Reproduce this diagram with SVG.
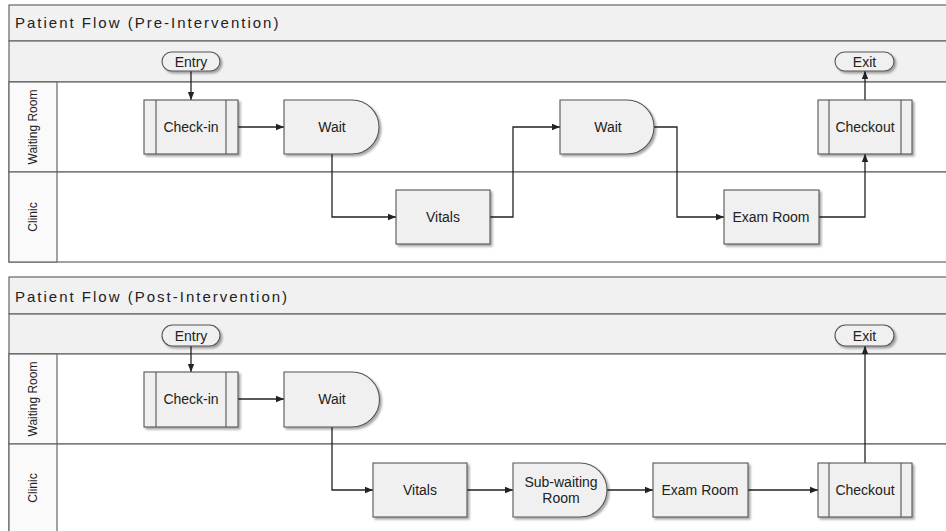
<svg xmlns="http://www.w3.org/2000/svg" width="946" height="531" viewBox="0 0 946 531">
<style>
.band{fill:#f1f1f1;stroke:#666;stroke-width:1.2}
.lane{fill:#ffffff;stroke:#666;stroke-width:1.2}
.lhead{fill:#fafafa;stroke:#666;stroke-width:1.2}
.title{font-family:"Liberation Sans",Arial,sans-serif;font-size:15px;letter-spacing:2px;fill:#222}
.lbl{font-family:"Liberation Sans",Arial,sans-serif;font-size:12px;fill:#222;text-anchor:middle}
.node{fill:#f0f0f0;stroke:#555;stroke-width:1.1;filter:url(#sh)}
.bar{fill:none;stroke:#555;stroke-width:1.1}
.txt{font-family:"Liberation Sans",Arial,sans-serif;font-size:14px;fill:#222;text-anchor:middle}
.con{fill:none;stroke:#222;stroke-width:1.3;marker-end:url(#ah)}
</style>
<defs>
<filter id="sh" x="-10%" y="-10%" width="130%" height="140%">
<feDropShadow dx="2" dy="2" stdDeviation="1.2" flood-color="#000" flood-opacity="0.35"/>
</filter>
<marker id="ah" viewBox="0 0 10 10" refX="10" refY="5" markerWidth="8" markerHeight="8" markerUnits="userSpaceOnUse" orient="auto">
<path d="M0,1 L10,5 L0,9 Z" fill="#222"/>
</marker>
</defs>

<!-- Top panel -->
<g id="panel-pre">
<rect class="band" x="9" y="5" width="945" height="36"/>
<text class="title" x="15" y="28">Patient Flow (Pre-Intervention)</text>
<rect class="band" x="9" y="41" width="945" height="41"/>
<rect class="lane" x="9" y="82" width="945" height="90"/>
<rect class="lane" x="9" y="172" width="945" height="90"/>
<rect class="lhead" x="9" y="82" width="48" height="90"/>
<rect class="lhead" x="9" y="172" width="48" height="90"/>
<text class="lbl" transform="translate(33,127) rotate(-90)" dy="4">Waiting Room</text>
<text class="lbl" transform="translate(33,217) rotate(-90)" dy="4">Clinic</text>
</g>

<!-- Bottom panel -->
<g id="panel-post">
<rect class="band" x="9" y="277" width="945" height="37"/>
<text class="title" x="15" y="302">Patient Flow (Post-Intervention)</text>
<rect class="band" x="9" y="314" width="945" height="40"/>
<rect class="lane" x="9" y="354" width="945" height="90"/>
<rect class="lane" x="9" y="444" width="945" height="100"/>
<rect class="lhead" x="9" y="354" width="48" height="90"/>
<rect class="lhead" x="9" y="444" width="48" height="100"/>
<text class="lbl" transform="translate(33,399) rotate(-90)" dy="4">Waiting Room</text>
<text class="lbl" transform="translate(33,488) rotate(-90)" dy="4">Clinic</text>
</g>

<!-- Connectors -->
<g id="connectors">
<path class="con" d="M191,71 V100"/>
<path class="con" d="M238,127 H284"/>
<path class="con" d="M332,154 V217 H396"/>
<path class="con" d="M490,217 H513 V127 H560"/>
<path class="con" d="M654,127 H677 V217 H724"/>
<path class="con" d="M819,217 H865 V154"/>
<path class="con" d="M865,100 V71"/>

<path class="con" d="M191,346 V372"/>
<path class="con" d="M238,399 H284"/>
<path class="con" d="M332,427 V490 H373"/>
<path class="con" d="M467,490 H513"/>
<path class="con" d="M607,490 H653"/>
<path class="con" d="M748,490 H818"/>
<path class="con" d="M865,463 V346"/>
</g>

<!-- Pre nodes -->
<g id="pre-entry">
<rect class="node" x="162" y="52" width="58" height="19" rx="9.5"/>
<text class="txt" x="191" y="66.5">Entry</text>
</g>
<g id="pre-checkin">
<rect class="node" x="144" y="100" width="94" height="54"/>
<path class="bar" d="M156,100 V154 M226,100 V154"/>
<text class="txt" x="191" y="132">Check-in</text>
</g>
<g id="pre-wait1">
<path class="node" d="M284,100 H352 A27,27 0 0 1 352,154 H284 Z"/>
<text class="txt" x="332" y="132">Wait</text>
</g>
<g id="pre-vitals">
<rect class="node" x="396" y="190" width="94" height="54"/>
<text class="txt" x="443" y="222">Vitals</text>
</g>
<g id="pre-wait2">
<path class="node" d="M560,100 H627 A27,27 0 0 1 627,154 H560 Z"/>
<text class="txt" x="608" y="132">Wait</text>
</g>
<g id="pre-exam">
<rect class="node" x="724" y="190" width="95" height="54"/>
<text class="txt" x="771" y="222">Exam Room</text>
</g>
<g id="pre-checkout">
<rect class="node" x="818" y="100" width="94" height="54"/>
<path class="bar" d="M829,100 V154 M901,100 V154"/>
<text class="txt" x="865" y="132">Checkout</text>
</g>
<g id="pre-exit">
<rect class="node" x="835" y="52" width="59" height="19" rx="9.5"/>
<text class="txt" x="864.5" y="66.5">Exit</text>
</g>

<!-- Post nodes -->
<g id="post-entry">
<rect class="node" x="162" y="325" width="58" height="21" rx="10.5"/>
<text class="txt" x="191" y="340.5">Entry</text>
</g>
<g id="post-checkin">
<rect class="node" x="144" y="372" width="94" height="55"/>
<path class="bar" d="M156,372 V427 M226,372 V427"/>
<text class="txt" x="191" y="404">Check-in</text>
</g>
<g id="post-wait">
<path class="node" d="M284,372 H352 A27.5,27.5 0 0 1 352,427 H284 Z"/>
<text class="txt" x="332" y="404">Wait</text>
</g>
<g id="post-vitals">
<rect class="node" x="373" y="463" width="94" height="54"/>
<text class="txt" x="420" y="495">Vitals</text>
</g>
<g id="post-subwait">
<path class="node" d="M513,463 H580 A27,27 0 0 1 580,517 H513 Z"/>
<text class="txt" x="561" y="487">Sub-waiting</text>
<text class="txt" x="561" y="503">Room</text>
</g>
<g id="post-exam">
<rect class="node" x="653" y="463" width="95" height="54"/>
<text class="txt" x="700" y="495">Exam Room</text>
</g>
<g id="post-checkout">
<rect class="node" x="818" y="463" width="94" height="54"/>
<path class="bar" d="M829,463 V517 M901,463 V517"/>
<text class="txt" x="865" y="495">Checkout</text>
</g>
<g id="post-exit">
<rect class="node" x="835" y="325" width="59" height="21" rx="10.5"/>
<text class="txt" x="864.5" y="340.5">Exit</text>
</g>
</svg>
